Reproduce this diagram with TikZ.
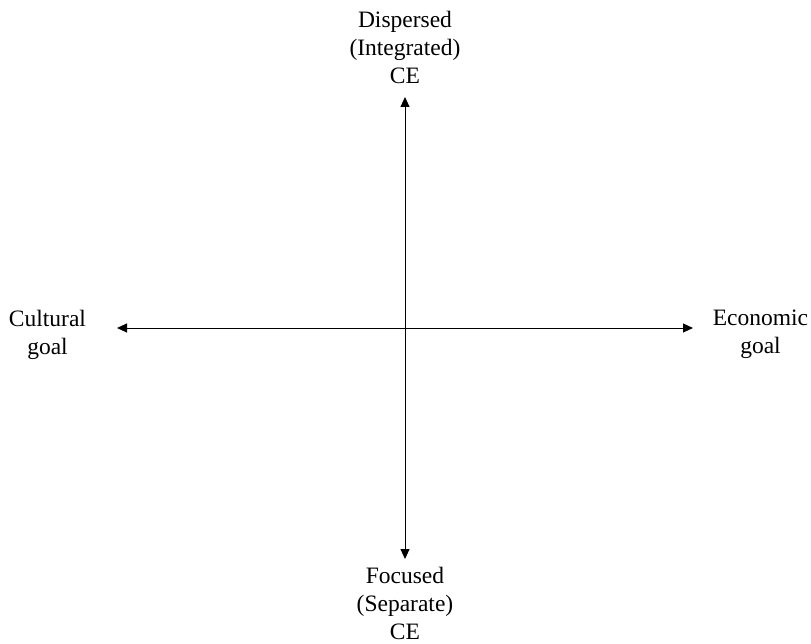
\documentclass[tikz,border=0pt]{standalone}
\usepackage{fontspec}
\setmainfont{Liberation Serif}
\usetikzlibrary{arrows.meta}
\begin{document}
\begin{tikzpicture}[x=1pt,y=-1pt,
  lbl/.style={align=center,font=\fontsize{23.5}{28}\selectfont,inner sep=0pt},
  axis/.style={line width=0.9pt,{Triangle[length=10pt,width=9pt]}-{Triangle[length=10pt,width=9pt]}}]
\useasboundingbox (0,0) rectangle (811,644);
\node[lbl] (top) at (405,47) {Dispersed\\(Integrated)\\CE};
\node[lbl] (bottom) at (405,603) {Focused\\(Separate)\\CE};
\node[lbl] (left) at (47.5,334.5) {Cultural\\goal};
\node[lbl] (right) at (760.5,334.5) {Economic\\goal};
\coordinate (vt) at (405,97);
\coordinate (vb) at (405,559);
\coordinate (hl) at (117,328);
\coordinate (hr) at (693,328);
\draw[axis] (vt) -- (vb);
\draw[axis] (hl) -- (hr);
\end{tikzpicture}
\end{document}
